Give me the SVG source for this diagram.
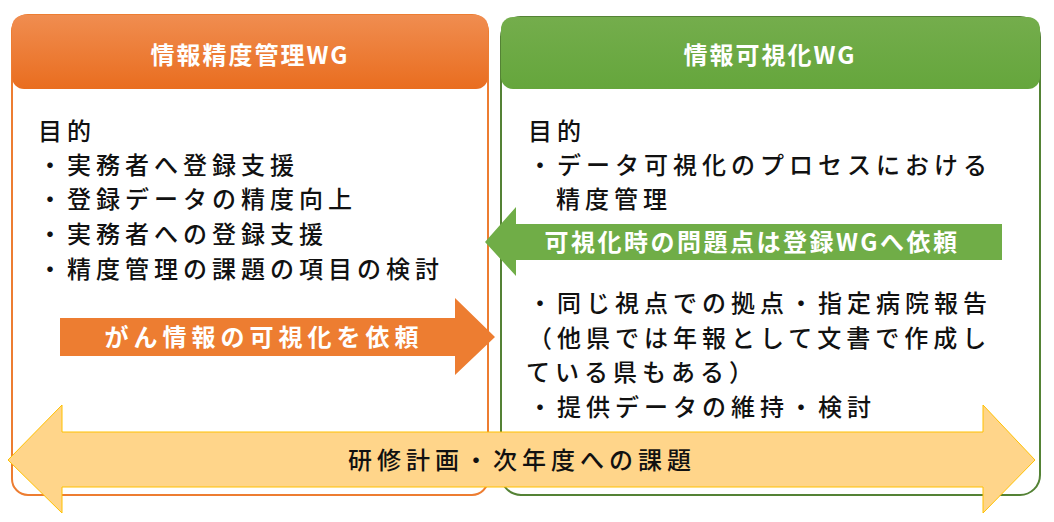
<svg xmlns="http://www.w3.org/2000/svg" width="1054" height="522" viewBox="0 0 1054 522">
<defs>
<linearGradient id="og" x1="0" y1="0" x2="0" y2="1"><stop offset="0" stop-color="#f08d50"/><stop offset="1" stop-color="#e96d1f"/></linearGradient>
<linearGradient id="gg" x1="0" y1="0" x2="0" y2="1"><stop offset="0" stop-color="#74ad4c"/><stop offset="1" stop-color="#65a63c"/></linearGradient>
<style>
text{font-family:"Noto Sans CJK JP","Noto Sans",sans-serif;font-size:24px;font-weight:500}
.b{fill:#111;letter-spacing:5px}
.w{fill:#fff;font-weight:bold}
</style>
</defs>
<g id="left">
<rect x="12" y="15" width="476" height="480" rx="16" fill="#fff" stroke="#ed7d31" stroke-width="2"/>
<rect x="12" y="15" width="476" height="74" rx="12" fill="url(#og)"/>
<text class="w" x="250" y="64" text-anchor="middle" font-size="26" letter-spacing="2">情報精度管理WG</text>
<text class="b" x="38" y="140">目的</text>
<text class="b" x="38" y="174">・実務者へ登録支援</text>
<text class="b" x="38" y="208">・登録データの精度向上</text>
<text class="b" x="38" y="243">・実務者への登録支援</text>
<text class="b" x="38" y="278">・精度管理の課題の項目の検討</text>
</g>
<g id="right">
<rect x="501" y="17" width="539" height="478" rx="20" fill="#fff" stroke="#548235" stroke-width="2"/>
<rect x="501" y="17" width="539" height="72" rx="12" fill="url(#gg)"/>
<text class="w" x="770" y="64" text-anchor="middle" font-size="26" letter-spacing="2">情報可視化WG</text>
<text class="b" x="528" y="140">目的</text>
<text class="b" x="528" y="174">・データ可視化のプロセスにおける</text>
<text class="b" x="556" y="208">精度管理</text>
<text class="b" x="528" y="312">・同じ視点での拠点・指定病院報告</text>
<text class="b" x="528" y="347">（他県では年報として文書で作成し</text>
<text class="b" x="526" y="381">ている県もある）</text>
<text class="b" x="528" y="416">・提供データの維持・検討</text>
</g>
<g id="connectors">
<polygon points="485,242 516,207 516,224 1002,224 1002,260 516,260 516,276" fill="#70ad47"/>
<text class="w" x="752" y="251" text-anchor="middle" letter-spacing="2.5">可視化時の問題点は登録WGへ依頼</text>
<polygon points="60,318 455,318 455,298 495,337 455,375 455,356 60,356" fill="#ed7d31"/>
<text class="w" x="264" y="346" text-anchor="middle" letter-spacing="5">がん情報の可視化を依頼</text>
<polygon points="8,460 62,405 62,432 983,432 983,405 1035,460 983,513 983,487 62,487 62,513" fill="#ffd58a" stroke="#ffc000" stroke-width="1"/>
<text class="b" x="522" y="469" text-anchor="middle" letter-spacing="5">研修計画・次年度への課題</text>
</g>
</svg>
